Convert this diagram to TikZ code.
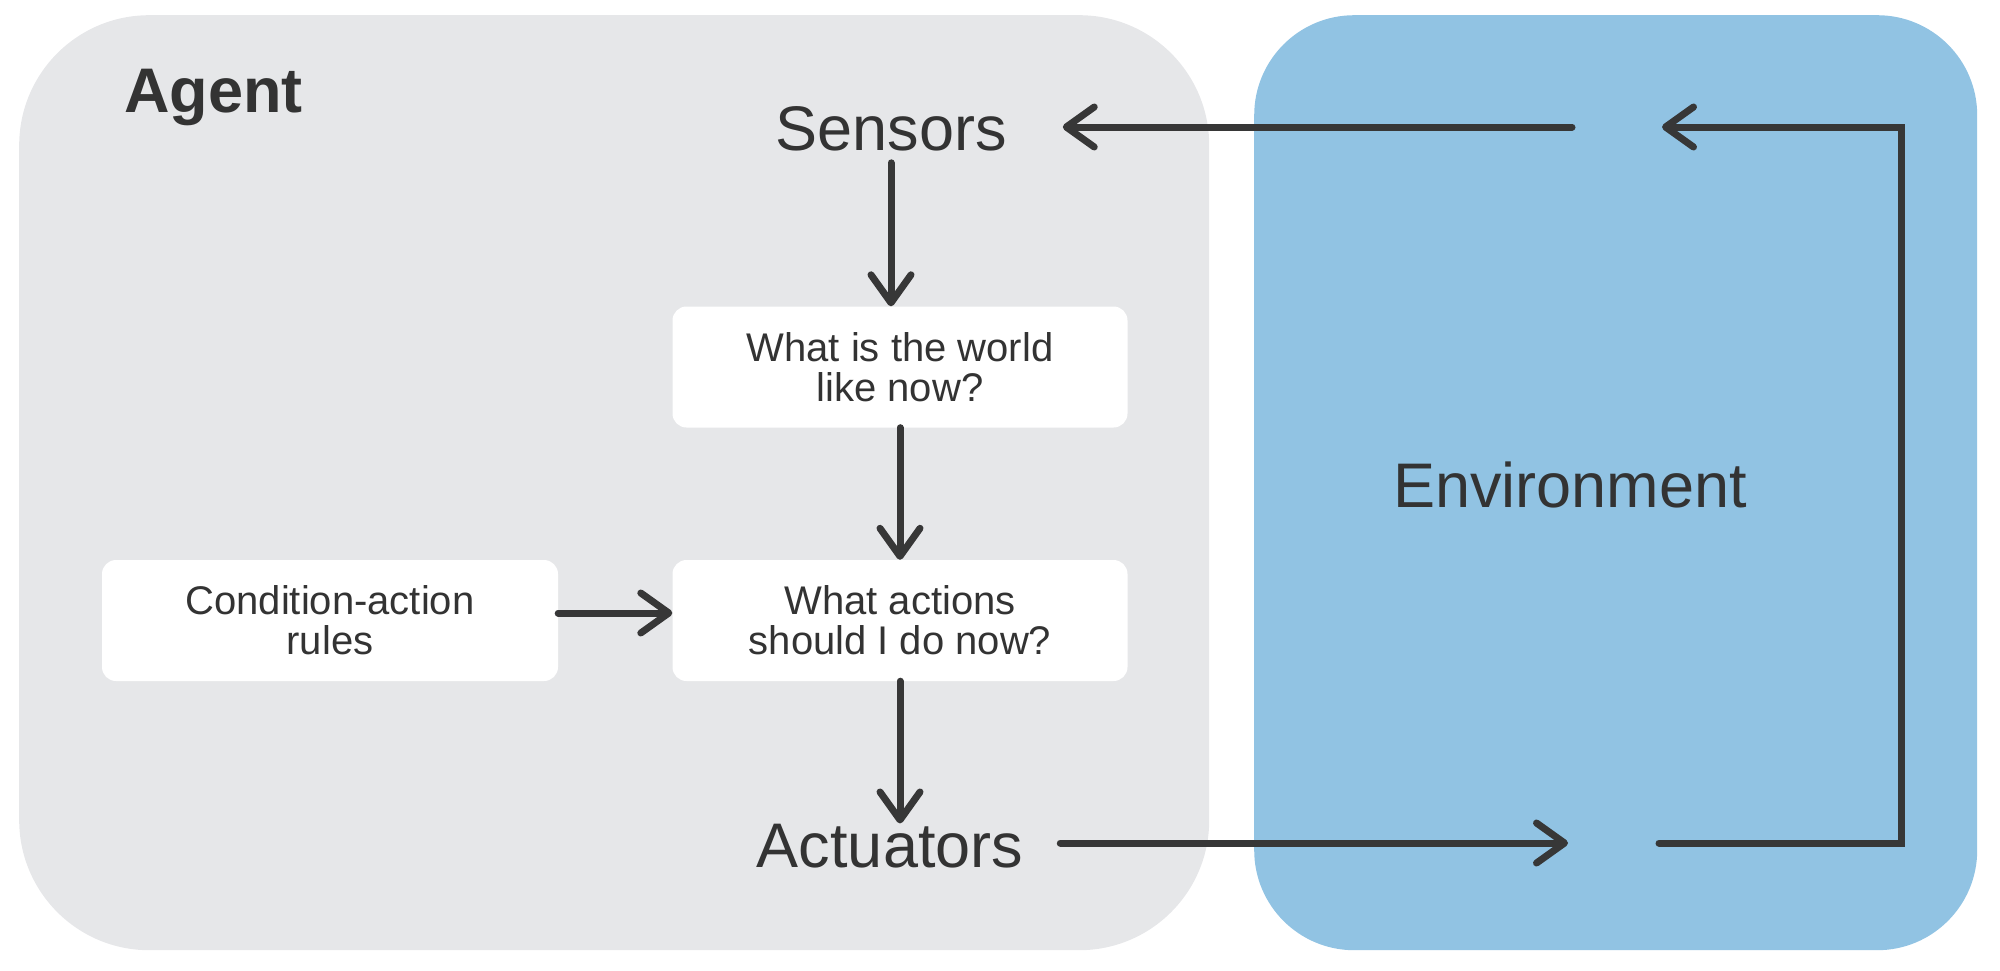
\documentclass[tikz,border=0pt]{standalone}
\usepackage{fontspec}
\setmainfont{Liberation Sans}
\usetikzlibrary{arrows.meta}
\definecolor{agentbg}{HTML}{E6E7E9}
\definecolor{envbg}{HTML}{91C3E3}
\definecolor{ink}{HTML}{333333}
\definecolor{arrowc}{HTML}{373737}
\begin{document}
\begin{tikzpicture}[x=1pt,y=-1pt,
  bigtext/.style={font=\fontsize{63}{63}\selectfont, text=ink, inner sep=0pt, anchor=base},
  qbox/.style={fill=white, rounded corners=14pt, minimum width=455pt, minimum height=121pt,
    inner sep=0pt, align=center, font=\fontsize{40}{40}\selectfont, text=ink},
  conn/.style={draw=arrowc, line width=7pt, line cap=round},
  tipped/.style={conn, -{Straight Barb[length=28pt,width=40pt,round]}}]
\useasboundingbox (0,0) rectangle (2000,970);
\node[fill=agentbg, rounded corners=130pt, minimum width=1190pt, minimum height=935pt,
  inner sep=0pt, anchor=north west] (agent) at (19,15) {};
\node[fill=envbg, rounded corners=100pt, minimum width=723pt, minimum height=935pt,
  inner sep=0pt, anchor=north west] (env) at (1254,15) {};
\node[bigtext, font=\fontsize{63}{63}\selectfont\bfseries, anchor=base west] (agentlabel) at (124,112) {Agent};
\node[bigtext] (sensors) at (891,150) {Sensors};
\node[bigtext] (actuators) at (890,867) {Actuators};
\node[bigtext] (envlabel) at (1570,507) {Environment};
\node[qbox] (world) at (900,367) {What is the world\\like now?};
\node[qbox] (action) at (900,620.5) {What actions\\should I do now?};
\node[qbox, minimum width=456pt] (rules) at (330,620.5) {Condition-action\\rules};
\coordinate (sensin) at (1572,127);
\coordinate (envtop) at (1662,127);
\coordinate (envbot) at (1659,843);
\coordinate (actout) at (1568,843);
\coordinate (cornertop) at (1901,127);
\coordinate (cornerbot) at (1901,843);
\draw[tipped] ([yshift=-12pt]sensors.south) -- (sensors.south |- world.north);
\draw[tipped] (world.south) -- (action.north);
\draw[tipped] (action.south) -- (action.south |- actuators.north);
\draw[tipped] ([yshift=7.5pt]rules.east) -- ([yshift=7.5pt]action.west);
\draw[tipped, shorten >=56pt] (sensin) -- (sensin -| sensors.east);
\draw[tipped, shorten <=37pt] (actuators.east |- actout) -- (actout);
\draw[tipped] (envbot) -- (cornerbot) -- (cornertop) -- (envtop);
\end{tikzpicture}
\end{document}
